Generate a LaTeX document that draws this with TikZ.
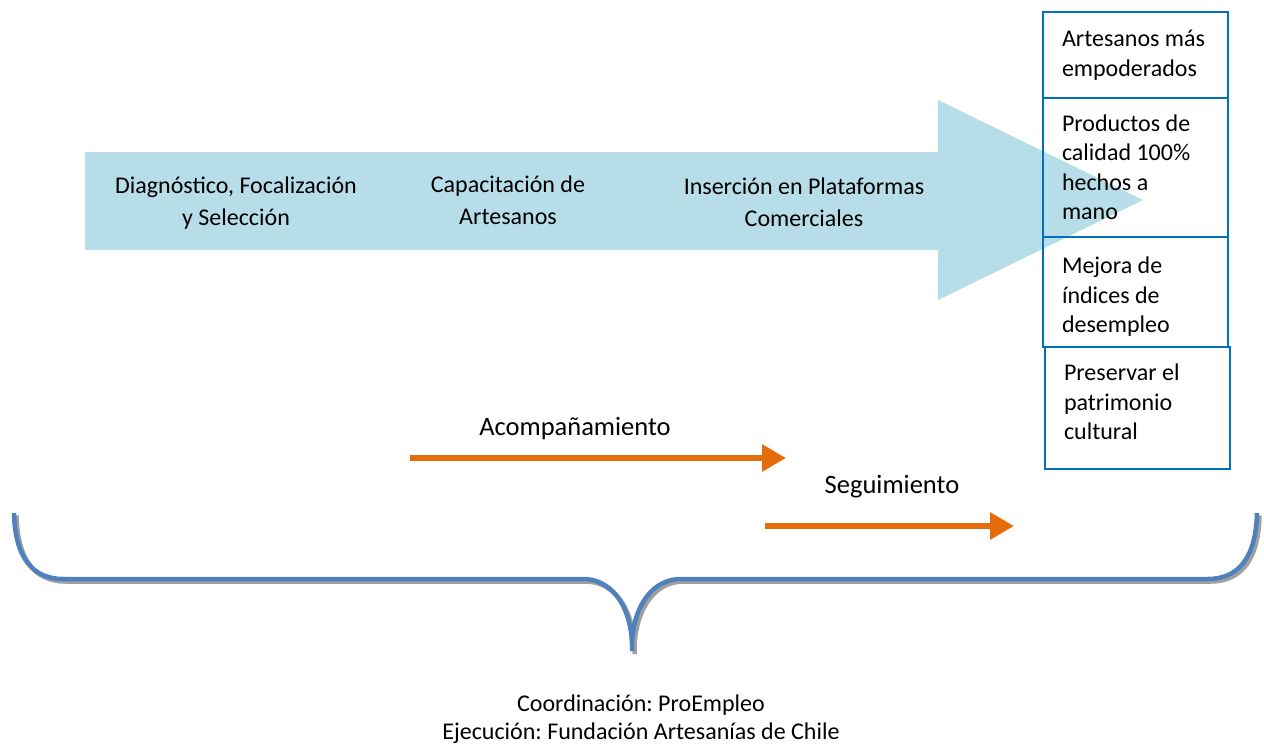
\documentclass[tikz,border=0pt]{standalone}
\usepackage{fontspec}
\setmainfont{Carlito}
\usetikzlibrary{arrows.meta}
\definecolor{arrowblue}{HTML}{B7DDE8}
\definecolor{boxblue}{HTML}{0070C0}
\definecolor{orangeline}{HTML}{E46C0A}
\definecolor{braceblue}{HTML}{4F81BD}
\definecolor{braceshadow}{HTML}{A0A0A0}
\frenchspacing
\tikzset{
  steptext/.style={align=center, inner sep=0pt, font=\fontsize{24}{32}\selectfont},
  plaintext/.style={align=center, inner sep=0pt, font=\fontsize{24}{28}\selectfont},
  labeltext/.style={inner sep=0pt, font=\fontsize{26.5}{30}\selectfont},
  outbox/.style={draw=boxblue, line width=2pt, align=flush left, text width=147pt,
    inner xsep=19pt, inner ysep=0pt, anchor=north west,
    font=\fontsize{24}{29.5}\selectfont},
  orangearrow/.style={draw=orangeline, line width=6.5pt,
    -{Triangle[length=24pt,width=26pt]}},
  bracestyle/.style={line width=4.5pt, line cap=butt}
}
\begin{document}
\begin{tikzpicture}[x=1pt,y=-1pt]
\useasboundingbox (0,0) rectangle (1264,745);
% big process arrow
\fill[arrowblue] (85,152) -- (938,152) -- (938,100) -- (1143,200) -- (938,300) -- (938,250) -- (85,250) -- cycle;
\node[steptext] (s1) at (236,203) {Diagnóstico, Focalización\\y Selección};
\node[steptext] (s2) at (508,200.5) {Capacitación de\\Artesanos};
\node[steptext] (s3) at (804,202.5) {Inserción en Plataformas\\Comerciales};
% outcome boxes
\node[outbox, minimum height=86pt] (r1) at (1042,11) {Artesanos más\\empoderados};
\node[outbox, minimum height=139pt] (r2) at (1042,97) {Productos de\\calidad 100\%\\hechos a\\mano};
\node[outbox, minimum height=110pt] (r3) at (1042,236) {\mbox{}\\[-3pt]Mejora de\\índices de\\desempleo};
\node[outbox, minimum height=122pt] (r4) at (1044,346) {Preservar el\\patrimonio\\cultural\\[-17pt]\mbox{}};
% orange arrows
\coordinate (a1s) at (410,458);
\coordinate (a1e) at (786,458);
\coordinate (a2s) at (765,526);
\coordinate (a2e) at (1014,526);
\draw[orangearrow] (a1s) -- (a1e);
\draw[orangearrow] (a2s) -- (a2e);
\node[labeltext] (acomp) at (575,429) {Acompañamiento};
\node[labeltext] (segui) at (892,487) {Seguimiento};
% brace (shadow then blue)
\draw[bracestyle, braceshadow] (16.5,515.5) .. controls (17.5,560) and (35,581.5) .. (65.5,581.5)
  -- (585.5,581.5) .. controls (612,581.5) and (632,605) .. (634.5,645) -- (634.5,654)
  (634.5,645) .. controls (637,605) and (657,581.5) .. (683.5,581.5)
  -- (1210.5,581.5) .. controls (1241,581.5) and (1258.5,560) .. (1259.5,515.5);
\draw[bracestyle, braceblue] (14,513) .. controls (15,558) and (33,579) .. (63,579)
  -- (583,579) .. controls (610,579) and (630,603) .. (632,643) -- (632,651)
  (632,643) .. controls (634,603) and (654,579) .. (681,579)
  -- (1208,579) .. controls (1238,579) and (1256,558) .. (1257,513);
% bottom text
\node[plaintext] (coord) at (641,719) {Coordinación: ProEmpleo\\Ejecución: Fundación Artesanías de Chile};
\end{tikzpicture}
\end{document}
